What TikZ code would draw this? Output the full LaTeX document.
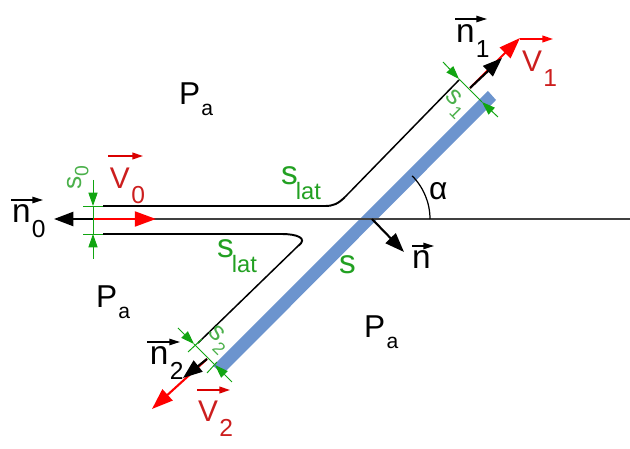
\documentclass[tikz,border=0pt]{standalone}
\usepackage{fontspec}
\setmainfont{Liberation Sans}
\usetikzlibrary{arrows.meta}

\definecolor{plateblue}{HTML}{6C94CE}
\definecolor{labgreen}{HTML}{22A022}
\definecolor{dimgreen}{HTML}{4BB04B}
\definecolor{arrowgreen}{HTML}{11A511}
\definecolor{labred}{HTML}{CC1E1E}

\newcommand{\fsize}[1]{\fontsize{#1}{#1}\selectfont}
% gap, base size, base letter, subscript size, subscript, drop of the subscript
\newcommand{\labsub}[6]{{\fsize{#2}#3}\hspace{#1}\raisebox{-#6}{\fsize{#4}#5}}

\tikzset{
  lab/.style={anchor=base west,inner sep=0pt,outer sep=0pt},
  dimlab/.style={anchor=center,inner sep=0pt,outer sep=0pt,dimgreen},
  wall/.style={black,line width=1.1pt},
  vecblack/.style={black,line width=1.2pt,-{Triangle[length=11pt,width=8pt]}},
  vecred/.style={red,line width=1.2pt,-{Triangle[length=12pt,width=8.5pt]}},
  overblack/.style={black,line width=0.8pt,-{Triangle[length=6pt,width=3.6pt]}},
  overred/.style={red!85!black,line width=0.9pt,-{Triangle[length=6pt,width=3.8pt]}},
  dimarrow/.style={arrowgreen,line width=0.55pt,-{Triangle[length=7.6pt,width=5.2pt]}},
  dimline/.style={arrowgreen,line width=0.55pt},
}

\begin{document}
\begin{tikzpicture}[x=0.02cm,y=-0.02cm]
\useasboundingbox (0,0) rectangle (630,449);

% plate
\coordinate (plateA) at (488,91);
\coordinate (plateB) at (496,100);
\coordinate (plateC) at (223,374);
\coordinate (plateD) at (213,366);
\fill[plateblue] (plateA) -- (plateB) -- (plateC) -- (plateD) -- cycle;

% axis
\coordinate (axisL) at (93,219);
\coordinate (axisR) at (630,219);
\draw[black!75,line width=0.7pt] (axisL) -- (axisR);

% walls of the jet
\coordinate (topL) at (103,206);
\coordinate (topR) at (459,80);
\coordinate (botL) at (103,234);
\coordinate (botR) at (198,343);
\draw[wall] (topL) -- (325,206) .. controls (333,206) and (338,204) .. (345,197);
\draw[black,line width=0.85pt] (345,197) -- (topR);
\draw[wall] (botL) -- (282,234) .. controls (296,234) and (309,238) .. (298,246);
\draw[black,line width=0.85pt] (298,246) -- (botR);

% vectors
\coordinate (tipN0) at (54,219);
\coordinate (tipV0) at (156,219);
\draw[vecblack] (axisL) -- (tipN0);
\draw[vecred] (axisL) -- (tipV0);

\coordinate (startN1) at (470,88);
\coordinate (tipV1) at (520,38);
\coordinate (tipN1) at (502,58);
\draw[vecred] (startN1) -- (tipV1);
\draw[vecblack] (startN1) -- (tipN1);

\coordinate (startN2) at (207,359);
\coordinate (tipV2) at (152,409);
\coordinate (tipN2) at (183,378);
\draw[vecred] (startN2) -- (tipV2);
\draw[vecblack] (startN2) -- (tipN2);

\coordinate (startN) at (372,219);
\coordinate (tipN) at (404,252);
\draw[vecblack] (startN) -- (tipN);

% angle
\draw[black,line width=0.7pt] (430,219) arc[start angle=0,end angle=-45,radius=61];

% s0
\coordinate (s0top) at (93,180);
\coordinate (s0bot) at (93,259);
\coordinate (s0a) at (93,206);
\coordinate (s0b) at (93,234);
\draw[dimarrow] (s0top) -- (s0a);
\draw[dimarrow] (s0bot) -- (s0b);
\draw[dimline] (s0a) -- (s0b);
\draw[dimline] (83,206) -- (103,206);
\draw[dimline] (83,234) -- (103,234);

% s1
\coordinate (s1top) at (443,62);
\coordinate (s1bot) at (498,117);
\coordinate (s1a) at (459,79);
\coordinate (s1b) at (482,102);
\draw[dimarrow] (s1top) -- (s1a);
\draw[dimarrow] (s1bot) -- (s1b);
\draw[dimline] (s1a) -- (s1b);

% s2
\coordinate (s2top) at (178,328);
\coordinate (s2bot) at (232,382);
\coordinate (s2a) at (194,344);
\coordinate (s2b) at (215,365);
\draw[dimarrow] (s2top) -- (s2a);
\draw[dimarrow] (s2bot) -- (s2b);
\draw[dimline] (s2a) -- (s2b);
\draw[dimline] (188,352) -- (202,339);
\draw[dimline] (207,373) -- (217,362);

% bars over the letters
\draw[overblack] (11,200) -- (43,200);
\draw[overblack] (455,19) -- (487,19);
\draw[overblack] (147,342) -- (180,342);
\draw[overblack] (412,246) -- (434,246);
\draw[overred] (108,156) -- (143,156);
\draw[red,line width=0.9pt,-{Triangle[length=6pt,width=3.8pt]}] (520,39) -- (553,39);
\draw[overred] (197,390) -- (230,390);

% labels
\node[lab] (labN0) at (12,223) {\labsub{0.8pt}{19}{n}{14}{0}{8pt}};
\node[lab] (labN1) at (456,43) {\labsub{0.8pt}{19}{n}{14}{1}{8pt}};
\node[lab] (labN2) at (150,365) {\labsub{0.8pt}{19}{n}{14}{2}{8pt}};
\node[lab] (labN) at (412,269) {\fsize{19}n};
\node[lab,labred] (labV0) at (110,189) {\labsub{0.8pt}{17}{V}{14}{0}{8.5pt}};
\node[lab,labred] (labV1) at (522,72) {\labsub{0.8pt}{17}{V}{14}{1}{8.5pt}};
\node[lab,labred] (labV2) at (198,422) {\labsub{0.8pt}{17}{V}{14}{2}{8.5pt}};
\node[lab] (labPaA) at (179,105) {\labsub{0.8pt}{18}{P}{12}{a}{6pt}};
\node[lab] (labPaB) at (96,308) {\labsub{0.8pt}{18}{P}{12}{a}{6pt}};
\node[lab] (labPaC) at (364,338) {\labsub{0.8pt}{18}{P}{12}{a}{6pt}};
\node[lab] (labAlpha) at (429,200) {\fsize{18}α};
\node[lab,labgreen] (labS) at (339,274) {\fsize{19}s};
\node[lab,labgreen] (labLatA) at (281,185) {\labsub{-1pt}{19}{s}{13.5}{lat}{8pt}};
\node[lab,labgreen] (labLatB) at (217,258) {\labsub{-1pt}{19}{s}{13.5}{lat}{8pt}};
\node[dimlab,rotate=90] (labS0) at (78,178) {\labsub{0pt}{15}{s}{11}{0}{4pt}};
\node[dimlab,rotate=-45] (labS1) at (455,104) {\labsub{0.5pt}{15}{s}{10}{1}{5pt}};
\node[dimlab,rotate=-45] (labS2) at (218,340) {\labsub{0.5pt}{15}{s}{10}{2}{5pt}};

\end{tikzpicture}
\end{document}
